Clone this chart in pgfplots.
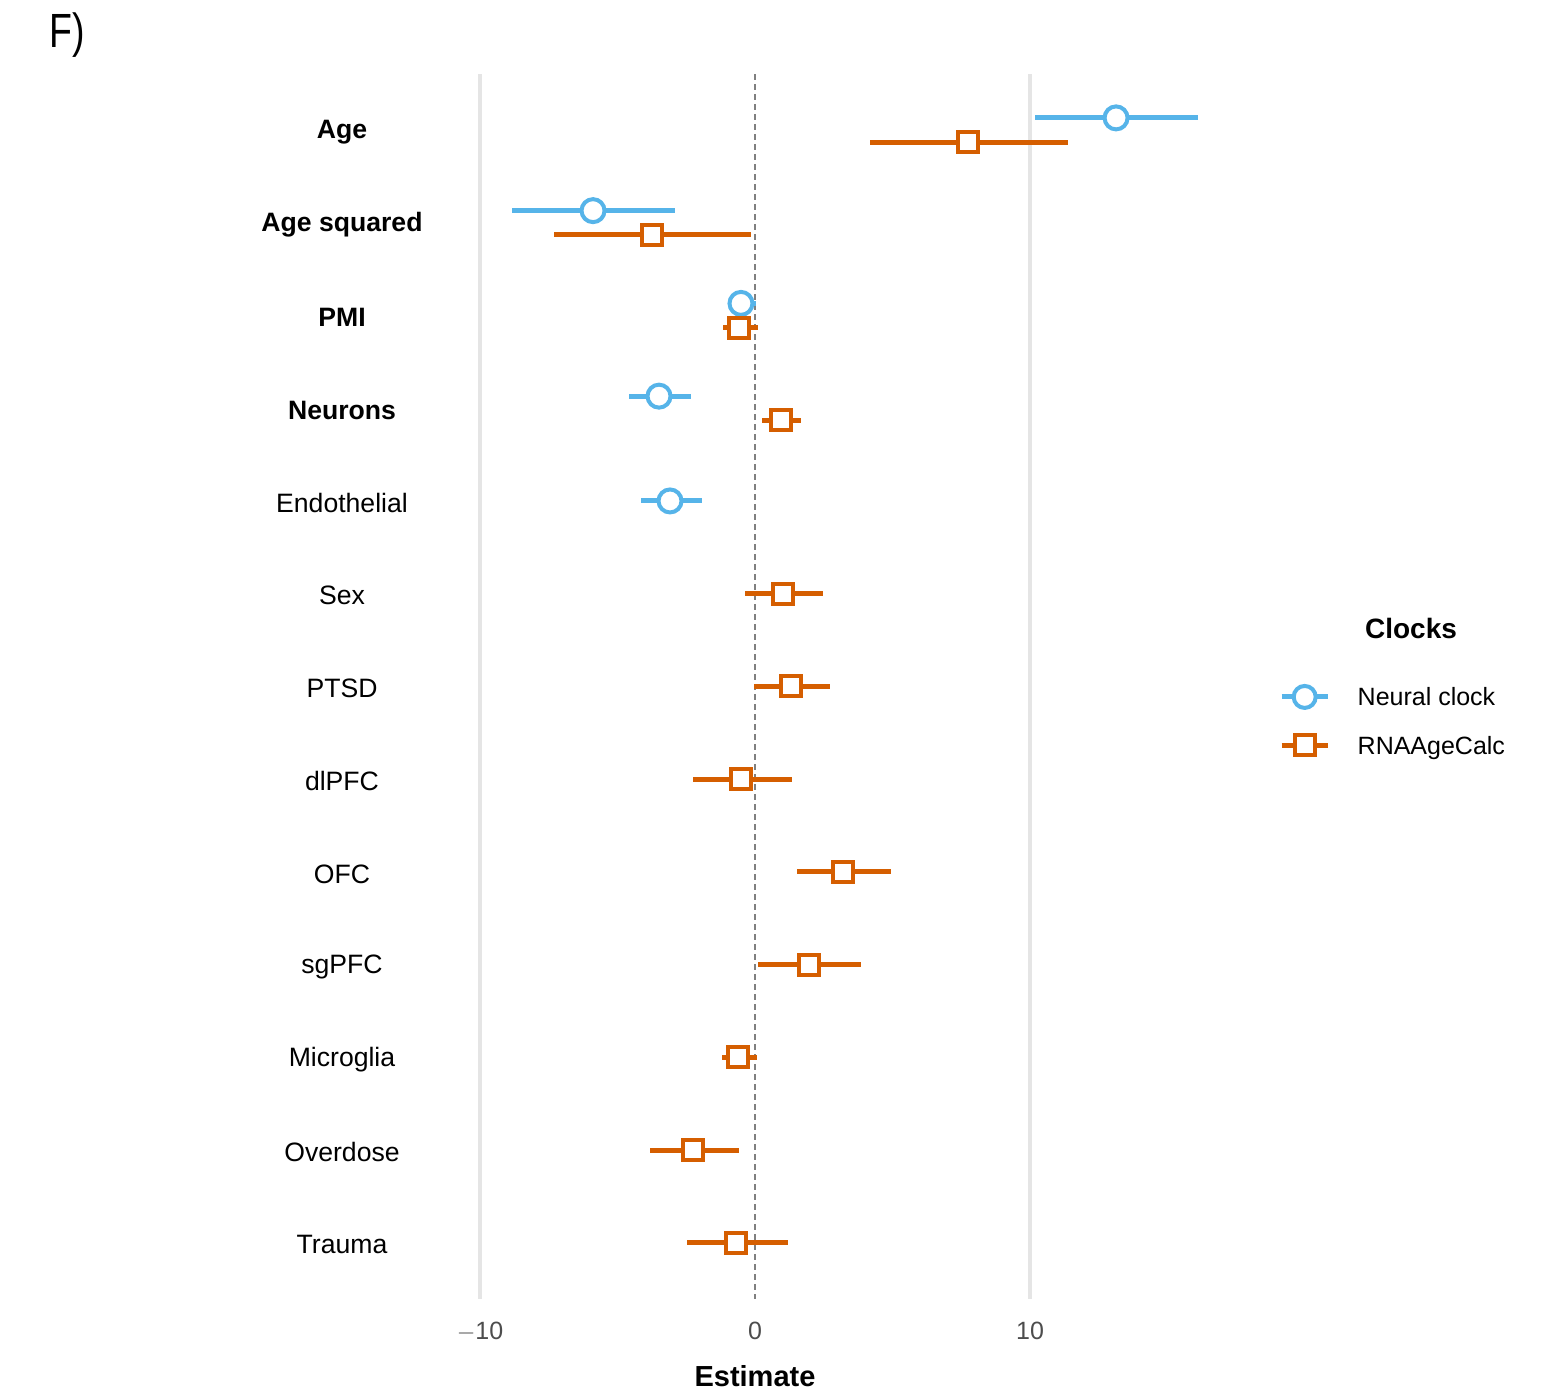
\documentclass[border=0pt]{standalone}
\usepackage{pgfplots}
\usepackage{graphicx}
\pgfplotsset{compat=1.18}
\usepackage{fontspec}
\setmainfont{Liberation Sans}
\definecolor{blueC}{HTML}{56B4E9}
\definecolor{oranC}{HTML}{D55E00}
\definecolor{gridC}{HTML}{E5E5E5}
\definecolor{tickC}{HTML}{4D4D4D}
\begin{document}
\begin{tikzpicture}
\path[use as bounding box] (-231.75pt,-48.7pt) rectangle (540.75pt,649.3pt);
\begin{axis}[
  at={(0,0)}, anchor=south west,
  scale only axis, width=371.25pt, height=612.15pt,
  xmin=-10.6, xmax=16.4, ymin=0.4, ymax=13.6,
  y dir=reverse,
  axis line style={draw=none},
  major tick length=0pt,
  xtick={-10,0,10}, xticklabels={$-$10,0,10},
  xticklabel style={font=\fontsize{12.5}{14}\selectfont, text=tickC, yshift=-8pt},
  ytick={1,...,13},
  yticklabels={\textbf{Age},\textbf{Age squared},\textbf{PMI},\textbf{Neurons},Endothelial,Sex,PTSD,dlPFC,OFC,sgPFC,Microglia,Overdose,Trauma},
  yticklabel style={font=\fontsize{13.3}{15}\selectfont, anchor=center, xshift=-60.75pt, yshift=-1pt},
  xlabel={\textbf{Estimate}},
  xlabel style={at={(axis description cs:0.3926,0)}, anchor=center, yshift=-38.7pt, font=\fontsize{14.5}{16}\selectfont},
  /pgf/number format/assume math mode=true,
  clip=false,
  legend style={at={(axis description cs:1.098,0.4718)}, anchor=west, draw=none, fill=none,
    font=\fontsize{12.5}{14}\selectfont, row sep=11pt, inner sep=0pt,
    nodes={inner sep=2pt, text depth=0pt}},
  legend cell align=left,
]
% gridlines
\addplot[gridC, line width=1.6pt, forget plot] coordinates {(-10,0.4) (-10,13.6)};
\addplot[gridC, line width=1.6pt, forget plot] coordinates {(10,0.4) (10,13.6)};
\addplot[gray, line width=0.6pt, dash pattern=on 3pt off 2pt, forget plot] coordinates {(0,0.4) (0,13.6)};
% Neural clock
\addplot[blueC, line width=2.5pt, only marks, mark=*, mark size=5.75pt,
  mark options={fill=white, draw=blueC, line width=2pt},
  legend image code/.code={
    \path[draw=none, fill=none] (36pt,0pt) circle (0.01pt);
    \draw[blueC, line width=2.5pt] (0pt,0pt) -- (23pt,0pt);
    \draw[blueC, line width=2pt, fill=white] (11.5pt,0pt) circle (5.5pt);},
  error bars/.cd, x dir=both, x explicit, error mark=none,
  error bar style={line width=2.5pt, blueC}]
  coordinates {
  (13.13,0.87) += (2.97,0) -= (2.95,0)
  (-5.89,1.87) += (2.98,0) -= (2.95,0)
  (-0.51,2.87) += (0.55,0) -= (0.39,0)
  (-3.49,3.87) += (1.16,0) -= (1.09,0)
  (-3.09,5) += (1.16,0) -= (1.06,0)
  };
\addlegendentry{Neural clock}
% RNAAgeCalc
\addplot[oranC, line width=2.5pt, only marks, mark=square*, mark size=5pt,
  mark options={fill=white, draw=oranC, line width=2pt},
  legend image code/.code={
    \path[draw=none, fill=none] (36pt,0pt) circle (0.01pt);
    \draw[oranC, line width=2.5pt] (0pt,0pt) -- (23pt,0pt);
    \draw[oranC, line width=2pt, fill=white] (6.5pt,-5pt) rectangle (16.5pt,5pt);},
  error bars/.cd, x dir=both, x explicit, error mark=none,
  error bar style={line width=2.5pt, oranC}]
  coordinates {
  (7.75,1.13) += (3.63,0) -= (3.57,0)
  (-3.75,2.13) += (3.60,0) -= (3.56,0)
  (-0.58,3.13) += (0.69,0) -= (0.58,0)
  (0.95,4.13) += (0.72,0) -= (0.70,0)
  (1.02,6) += (1.45,0) -= (1.38,0)
  (1.31,7) += (1.42,0) -= (1.35,0)
  (-0.51,8) += (1.86,0) -= (1.74,0)
  (3.20,9) += (1.75,0) -= (1.67,0)
  (1.96,10) += (1.89,0) -= (1.85,0)
  (-0.62,11) += (0.69,0) -= (0.58,0)
  (-2.25,12) += (1.67,0) -= (1.57,0)
  (-0.69,13) += (1.89,0) -= (1.78,0)
  };
\addlegendentry{RNAAgeCalc}
\end{axis}
\node[font=\fontsize{14}{16}\selectfont\bfseries] at (473.75pt,334.8pt) {Clocks};
\node[font=\fontsize{24}{28}\selectfont] at (-198.25pt,631.8pt) {\scalebox{0.78}[1]{F)}};
\end{tikzpicture}
\end{document}
